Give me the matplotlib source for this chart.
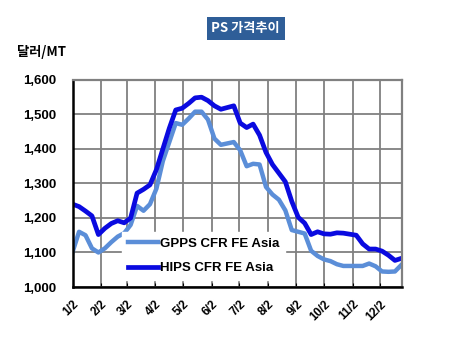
import numpy as np
import pandas as pd
import matplotlib
matplotlib.use('Agg')
import matplotlib.pyplot as plt

plt.rcParams['font.family'] = ['Liberation Sans', 'Noto Sans CJK KR', 'DejaVu Sans']

# weekly prices, USD/MT
dates = pd.date_range('2009-01-02', periods=52, freq='7D')
gpps = [1102, 1160, 1150, 1112, 1100, 1112, 1130, 1146, 1156, 1180,
        1235, 1221, 1240, 1285, 1365, 1420, 1475, 1470, 1488, 1508,
        1508, 1485, 1430, 1412, 1416, 1420, 1396, 1350, 1357, 1355,
        1290, 1268, 1253, 1222, 1165, 1160, 1155, 1105, 1090, 1080,
        1075, 1066, 1061, 1061, 1061, 1061, 1068, 1060, 1045, 1044,
        1045, 1064]
hips = [1240, 1233, 1220, 1206, 1152, 1170, 1184, 1192, 1186, 1200,
        1272, 1283, 1296, 1340, 1400, 1460, 1513, 1518, 1532, 1548,
        1550, 1540, 1525, 1515, 1520, 1525, 1475, 1462, 1472, 1440,
        1390, 1355, 1330, 1305, 1248, 1202, 1185, 1152, 1160, 1154,
        1153, 1157, 1156, 1153, 1150, 1125, 1110, 1110, 1104, 1092,
        1077, 1083]
tick_dates = [pd.Timestamp(2009, m, 2) for m in range(1, 13)]
tick_labels = [f'{m}/2' for m in range(1, 13)]
yticks = np.arange(1000, 1601, 100)

fig = plt.figure(figsize=(4.51, 3.46), dpi=100)
ax = fig.add_axes([0.161, 0.1705, 0.731, 0.5985])

ax.plot(dates, gpps, color='#5B8ED8', lw=3.2, solid_joinstyle='round', label='GPPS CFR FE Asia')
ax.plot(dates, hips, color='#0A0AE0', lw=3.4, solid_joinstyle='round', label='HIPS CFR FE Asia')

ax.set_xlim(pd.Timestamp('2009-01-02'), pd.Timestamp('2009-12-26'))
ax.set_ylim(1000, 1600)
ax.set_yticks(yticks)
ax.set_yticklabels([f'{v:,}' for v in yticks], fontweight='bold', fontsize=9.5)
ax.set_xticks(tick_dates)
ax.set_xticklabels(tick_labels, rotation=45, ha='right', rotation_mode='anchor',
                   fontweight='bold', fontsize=8.5)
ax.tick_params(axis='x', direction='in', length=3, pad=8)
ax.tick_params(axis='y', length=0, pad=12)

ax.grid(True, color='#808080', lw=1.3)
ax.set_axisbelow(True)
for s in ['top', 'right']:
    ax.spines[s].set_color('#808080')
    ax.spines[s].set_linewidth(1.6)
for s in ['left', 'bottom']:
    ax.spines[s].set_color('black')
    ax.spines[s].set_linewidth(1.8)

leg = ax.legend(loc='lower left', bbox_to_anchor=(0.13, 0.0), frameon=True,
                fancybox=False, edgecolor='white', framealpha=1,
                prop={'weight': 'bold', 'size': 9.5}, handlelength=2.3,
                handletextpad=0.1, labelspacing=0.95, borderpad=0.45)

fig.text(0.545, 0.918, 'PS 가격추이', ha='center', va='center', color='white',
         fontweight='bold', fontsize=9.5,
         family=['Noto Sans CJK KR', 'DejaVu Sans'],
         bbox=dict(boxstyle='square,pad=0.35', fc='#2F5E98', ec='none'))
fig.text(0.038, 0.85, '달러/MT', ha='left', va='center', fontweight='bold', fontsize=9.5,
         family=['Noto Sans CJK KR', 'DejaVu Sans'])

fig.savefig('out.png', dpi=100)
